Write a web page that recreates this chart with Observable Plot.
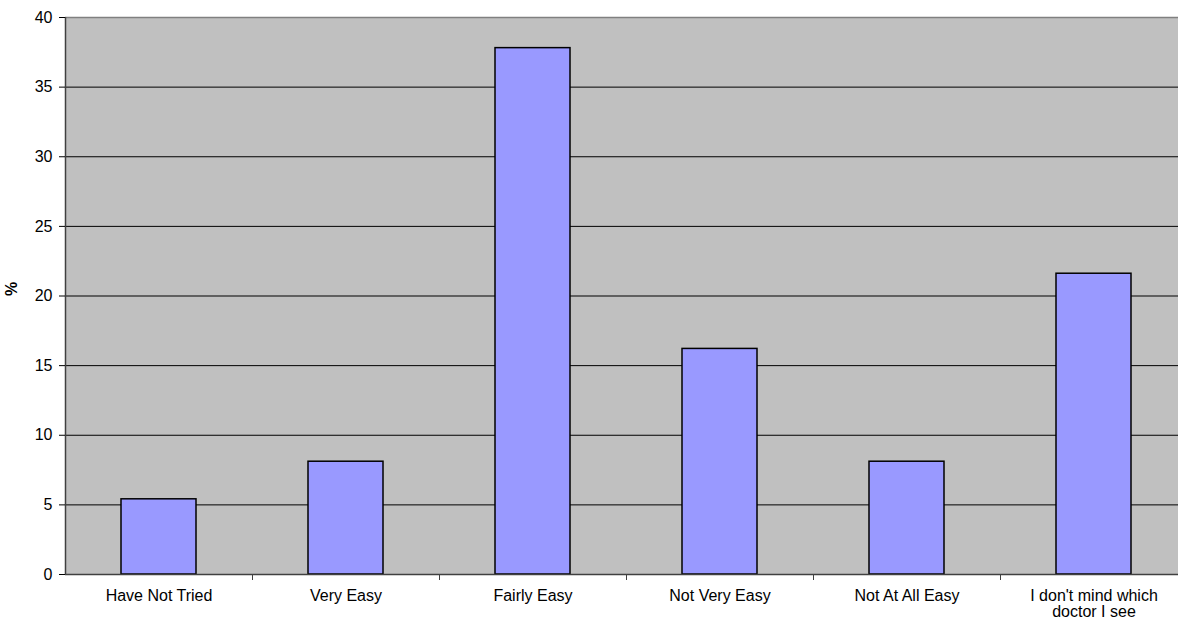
<!DOCTYPE html>
<html>
<head>
<meta charset="utf-8">
<script src="https://cdn.jsdelivr.net/npm/d3@7"></script>
<script src="https://cdn.jsdelivr.net/npm/@observablehq/plot@0.6"></script>
<style>
  html, body { margin: 0; padding: 0; background: #fff; overflow: hidden; }
  #chart svg { display: block; }
</style>
</head>
<body>
<div id="chart"></div>
<script>
const categories = ["Have Not Tried", "Very Easy", "Fairly Easy", "Not Very Easy", "Not At All Easy", "I don't mind which doctor I see"];
const values = [5.4, 8.1, 37.8, 16.2, 8.1, 21.6];
const yTicks = [0, 5, 10, 15, 20, 25, 30, 35, 40];
const gridTicks = [5, 10, 15, 20, 25, 30, 35];
const tickLabels = {"I don't mind which doctor I see": "I don't mind which\ndoctor I see"};

const data = categories.map((c, i) => ({category: c, value: values[i]}));

const W = 1178, H = 622, mL = 65, mR = -9, mT = 17, mB = 48;
const step = (W - mL - mR) / categories.length;
const FS = 16;

const chart = Plot.plot({
  width: W,
  height: H,
  marginLeft: mL,
  marginRight: mR,
  marginTop: mT,
  marginBottom: mB,
  style: {fontFamily: "'Liberation Sans', Arial, sans-serif", fontSize: FS + "px", color: "#000", background: "#fff", overflow: "hidden"},
  x: {domain: categories, paddingInner: 0.6, paddingOuter: 0.3},
  y: {domain: [0, 40]},
  marks: [
    Plot.frame({fill: "#C0C0C0", stroke: null}),
    Plot.ruleY(gridTicks, {stroke: "#000", strokeWidth: 1}),
    Plot.ruleY([40], {stroke: "#808080", strokeWidth: 1.5}),
    Plot.barY(data, {x: "category", y: "value", fill: "#9999FF", stroke: "#000", strokeWidth: 1.5}),
    Plot.ruleY([0], {stroke: "#404040", strokeWidth: 1.5}),
    Plot.ruleX([categories[0]], {x: d => d, dx: -step / 2, stroke: "#404040", strokeWidth: 1.5}),
    Plot.axisY({ticks: yTicks, tickSize: 6, tickPadding: 7, label: null, fontSize: FS}),
    Plot.axisX({tickSize: 0, tickPadding: 15, label: null, fontSize: FS, tickFormat: d => tickLabels[d] ?? d}),
    Plot.ruleX(categories, {x: d => d, y1: () => 0, y2: () => 0, insetTop: 6, dx: step / 2, stroke: "#404040", strokeWidth: 1}),
    Plot.text(["%"], {frameAnchor: "left", dx: -54, rotate: -90, fontWeight: "bold", fontSize: FS, text: d => d})
  ]
});
document.getElementById("chart").appendChild(chart);
</script>
</body>
</html>
